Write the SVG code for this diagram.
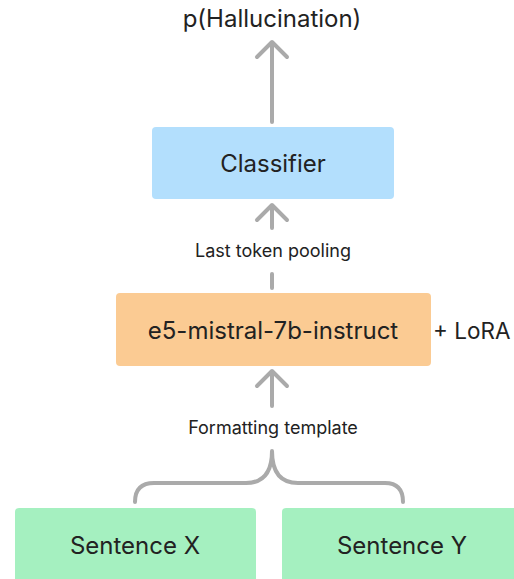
<svg xmlns="http://www.w3.org/2000/svg" width="514" height="579" viewBox="0 0 514 579">
<style>
text{font-family:Inter,"Noto Sans","Liberation Sans",sans-serif;fill:#222;text-anchor:middle}
.big{font-size:24px}
.lbl{font-size:18px}
.con{stroke:#aaaaaa;stroke-width:4;fill:none;stroke-linecap:round;stroke-linejoin:round}
</style>
<rect width="514" height="579" fill="#ffffff"/>
<g id="connectors">
<path class="con" d="M272,122 V43 M257,57 L272,42 L287,57"/>
<path class="con" d="M272,228 V206 M257,220 L272,205 L287,220"/>
<path class="con" d="M272,274 V288"/>
<path class="con" d="M272,406 V372 M257,386 L272,371 L287,386"/>
<path class="con" d="M135,502 Q135,483 154,483 L246,483 Q272,483 272,451 Q272,483 298,483 L385,483 Q403,483 403,502"/>
</g>
<g id="output"><text class="big" x="272" y="27">p(Hallucination)</text></g>
<g id="classifier">
<rect x="152" y="127" width="242" height="72" rx="4" fill="#b3dffd"/>
<text class="big" x="273" y="172">Classifier</text>
</g>
<g id="pooling"><text class="lbl" x="273" y="257">Last token pooling</text></g>
<g id="encoder">
<rect x="116" y="293" width="315" height="73" rx="4" fill="#fbcb93"/>
<text class="big" x="273" y="339">e5-mistral-7b-instruct</text>
<text x="433" y="339" style="text-anchor:start;font-size:22.5px">+ LoRA</text>
</g>
<g id="template"><text class="lbl" x="273" y="434">Formatting template</text></g>
<g id="sentx">
<rect x="15" y="508" width="241" height="80" rx="4" fill="#a5f0c0"/>
<text class="big" x="135" y="554">Sentence X</text>
</g>
<g id="senty">
<rect x="282" y="508" width="250" height="80" rx="4" fill="#a5f0c0"/>
<text class="big" x="402" y="554">Sentence Y</text>
</g>
</svg>
